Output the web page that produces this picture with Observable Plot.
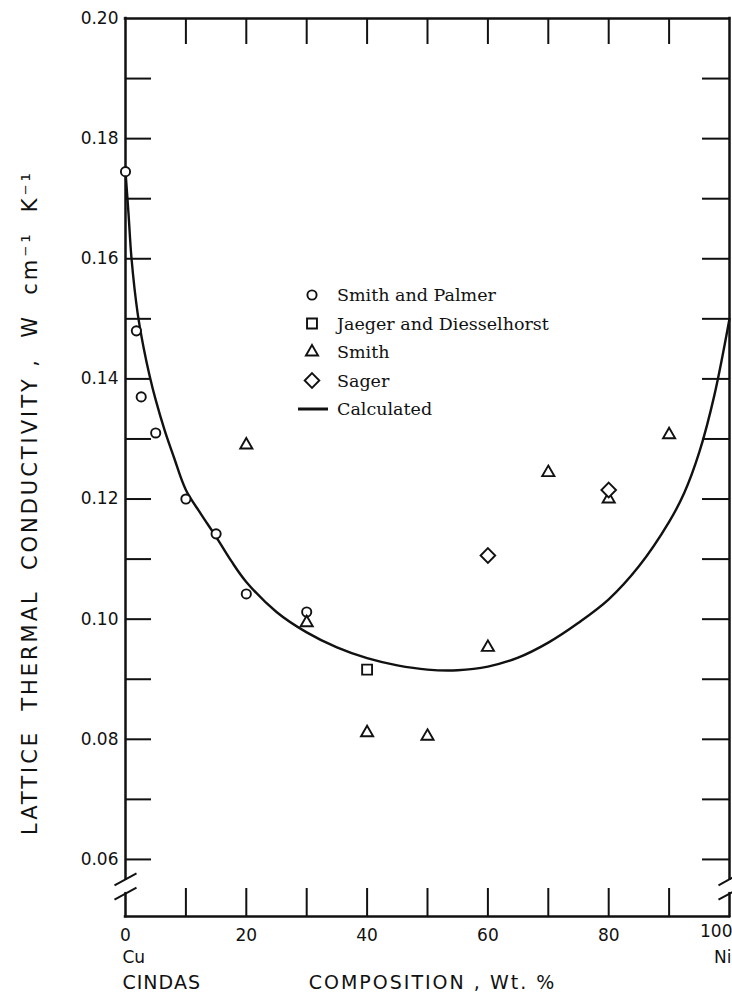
<!DOCTYPE html>
<html><head><meta charset="utf-8">
<script src="https://cdn.jsdelivr.net/npm/d3@7"></script>
<script src="https://cdn.jsdelivr.net/npm/@observablehq/plot@0.6"></script>
<style>
body{margin:0;background:#fff;}
#chart{position:relative;width:732px;height:1002px;}
</style></head><body><div id="chart"></div>
<script>
// ---- data ----
const smithPalmerX = [0, 1.8, 2.6, 5, 10, 15, 20, 30];
const smithPalmerY = [0.1745, 0.148, 0.137, 0.131, 0.120, 0.1142, 0.1042, 0.1012];
const jaegerX = [40];
const jaegerY = [0.0916];
const smithX = [20, 30, 40, 50, 60, 70, 80, 90];
const smithY = [0.129, 0.0994, 0.0811, 0.0805, 0.0953, 0.1244, 0.1200, 0.1307];
const sagerX = [60, 80];
const sagerY = [0.1106, 0.1215];
const calcX = [0, 0.5, 1, 2, 3, 4, 5, 6.5, 8, 10, 12.5, 15, 17.5, 20, 25, 30, 35, 40, 45, 50, 55, 60, 65, 70, 75, 80, 85, 90, 92.5, 95, 97.5, 100];
const calcY = [0.1745, 0.1675, 0.1600, 0.1510, 0.1452, 0.1405, 0.1365, 0.1314, 0.1270, 0.1215, 0.1175, 0.1137, 0.1097, 0.1062, 0.1012, 0.0978, 0.0953, 0.0935, 0.0923, 0.0916, 0.0915, 0.0921, 0.0936, 0.0961, 0.0994, 0.1033, 0.1088, 0.1162, 0.1210, 0.1278, 0.1373, 0.1500];

const xTickLabels = [0, 20, 40, 60, 80];
const xEndLabel = [100];
const xMinorTicks = [10, 20, 30, 40, 50, 60, 70, 80, 90];
const yTickLabels = [0.06, 0.08, 0.10, 0.12, 0.14, 0.16, 0.18, 0.20];
const yMinorTicks = [0.06, 0.07, 0.08, 0.09, 0.10, 0.11, 0.12, 0.13, 0.14, 0.15, 0.16, 0.17, 0.18, 0.19];
const xDomain = [0, 100];
const yDomain = [0.0505, 0.20];     // axis floor lies below the axis break
const yBreaks = [0.0567, 0.0543];   // the "//" break on both vertical axes

const legendLabels = ["Smith and Palmer", "Jaeger and Diesselhorst", "Smith", "Sager", "Calculated"];
const yLabel = "LATTICE\u00a0 THERMAL\u00a0 CONDUCTIVITY ,\u00a0 W\u00a0 cm\u207b\u00b9\u00a0 K\u207b\u00b9";
const xLabel = "COMPOSITION , Wt. %";

// ---- tables ----
const zip = (xs, ys) => xs.map((x, i) => ({x, y: ys[i]}));
const spData = zip(smithPalmerX, smithPalmerY);
const jdData = zip(jaegerX, jaegerY);
const smData = zip(smithX, smithY);
const sgData = zip(sagerX, sagerY);
const calcData = zip(calcX, calcY);

const sides = [];
for (const x of xDomain) {
  sides.push({x, y1: yDomain[1], y2: yBreaks[0]});
  sides.push({x, y1: yBreaks[1], y2: yDomain[0]});
}
const breakPts = [];
for (const x of xDomain) for (const y of yBreaks) breakPts.push({x, y});

const slash = {draw(ctx) { ctx.moveTo(-11, 6); ctx.lineTo(11, -6); }};

const W = 732, H = 1002, ML = 125, MR = 3, MT = 18, MB = 86;
const innerW = W - ML - MR, innerH = H - MT - MB;
const ink = "#111";

const sym = {sp: {symbol: "circle", r: 4.6}, jd: {symbol: "square", r: 5.6}, sm: {symbol: "triangle2", r: 5.8}, sg: {symbol: "diamond2", r: 6.6}};
const dotOpts = {x: "x", y: "y", stroke: ink, fill: "white", strokeWidth: 1.9};

const plot = Plot.plot({
  width: W, height: H,
  marginLeft: ML, marginRight: MR, marginTop: MT, marginBottom: MB,
  x: {domain: xDomain},
  y: {domain: yDomain},
  style: {fontFamily: "DejaVu Sans", fontSize: "17px", color: ink, background: "white"},
  marks: [
    Plot.line(calcData, {x: "x", y: "y", curve: "catmull-rom", stroke: ink, strokeWidth: 2.4}),
    // frame with breaks
    Plot.ruleY([yDomain[1], yDomain[0]], {stroke: ink, strokeWidth: 2.5, strokeLinecap: "square"}),
    Plot.ruleX(sides, {x: "x", y1: "y1", y2: "y2", stroke: ink, strokeWidth: 2.5, strokeLinecap: "square"}),
    Plot.dot(breakPts, {x: "x", y: "y", symbol: slash, stroke: ink, fill: "none", strokeWidth: 2}),
    // inner ticks
    Plot.tickY(yMinorTicks, {y: d => d, insetRight: innerW - 26, stroke: ink, strokeWidth: 2}),
    Plot.tickY(yMinorTicks, {y: d => d, insetLeft: innerW - 27, stroke: ink, strokeWidth: 2}),
    Plot.tickX(xMinorTicks, {x: d => d, insetBottom: innerH - 26, stroke: ink, strokeWidth: 2}),
    Plot.tickX(xMinorTicks, {x: d => d, insetTop: innerH - 28, stroke: ink, strokeWidth: 2}),
    // axes labels
    Plot.axisY({ticks: yTickLabels, tickSize: 0, tickPadding: 7, tickFormat: d3.format(".2f"), label: null, fontSize: 17}),
    Plot.axisX({ticks: xTickLabels, tickSize: 0, tickPadding: 12, tickFormat: d3.format("d"), label: null, fontSize: 17}),
    Plot.text(xEndLabel, {x: d => d, text: d => String(d), frameAnchor: "bottom", dy: 20, dx: 3, textAnchor: "end", fontSize: 17}),
    Plot.text(["Cu"], {x: xDomain[0], frameAnchor: "bottom", dy: 46, dx: -3, textAnchor: "start", fontSize: 17}),
    Plot.text(["Ni"], {x: xDomain[1], frameAnchor: "bottom", dy: 46, dx: 2, textAnchor: "end", fontSize: 17}),
    Plot.text(["CINDAS"], {x: xDomain[0], frameAnchor: "bottom", dy: 72, dx: -3, textAnchor: "start", fontSize: 19}),
    Plot.text([xLabel], {frameAnchor: "bottom", dy: 72, dx: 5, textAnchor: "middle", fontSize: 19}),
    Plot.text([yLabel], {frameAnchor: "left", dx: -95, dy: 35, rotate: -90, textAnchor: "middle", fontSize: 21}),
    // data
    Plot.dot(spData, {...dotOpts, ...sym.sp}),
    Plot.dot(jdData, {...dotOpts, ...sym.jd}),
    Plot.dot(smData, {...dotOpts, ...sym.sm}),
    Plot.dot(sgData, {...dotOpts, ...sym.sg})
  ]
});
document.getElementById("chart").appendChild(plot);

// text tuning
d3.select(plot).selectAll("text").each(function() {
  const t = this.textContent;
  if (t === yLabel) {
    const len = this.getComputedTextLength();
    const ls = Math.max(0, (665 - len) / t.length);
    this.style.letterSpacing = ls + "px";
  }
  if (t === xLabel) { this.style.letterSpacing = "2px"; }
  if (t === "CINDAS") { this.style.letterSpacing = "1px"; }
});

// legend
const lg = d3.select(plot).append("g").attr("font-family", "DejaVu Serif").attr("font-size", 17.5)
  .attr("fill", "#111").attr("text-anchor", "start");
const legendSyms = [d3.symbolCircle, d3.symbolSquare, d3.symbolTriangle2, d3.symbolDiamond2];
const legendR = [sym.sp.r, sym.jd.r, sym.sm.r, sym.sg.r];
const lx = 312, ly0 = 295, lstep = 28.5, tx = 337;
legendLabels.forEach((lab, i) => {
  const y = ly0 + i * lstep;
  if (i < 4) {
    lg.append("path").attr("d", d3.symbol(legendSyms[i], Math.PI * legendR[i] ** 2)())
      .attr("transform", `translate(${lx},${y})`).attr("fill", "white").attr("stroke", ink).attr("stroke-width", 1.9);
  } else {
    lg.append("line").attr("x1", lx - 14).attr("x2", lx + 16).attr("y1", y).attr("y2", y).attr("stroke", ink).attr("stroke-width", 3);
  }
  lg.append("text").attr("x", tx).attr("y", y).attr("dy", "0.35em").attr("text-anchor", "start").text(lab);
});
</script></body></html>
